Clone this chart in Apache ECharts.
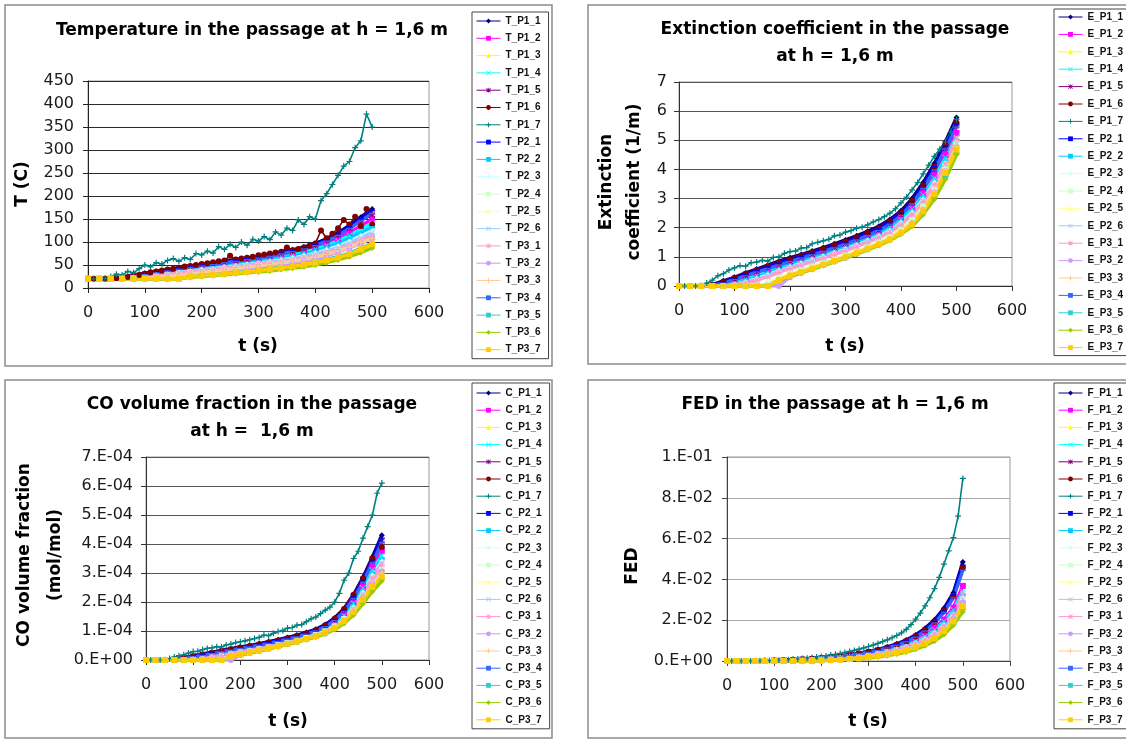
<!DOCTYPE html>
<html><head><meta charset="utf-8">
<script src="https://cdn.jsdelivr.net/npm/echarts@6/dist/echarts.min.js"></script>
<style>html,body{margin:0;padding:0;background:#fff}#c{width:1126px;height:740px}</style>
</head><body><div id="c"></div>
<script>
// ---------- shared categories / ticks ----------
const probeIds = ['P1_1','P1_2','P1_3','P1_4','P1_5','P1_6','P1_7','P2_1','P2_2','P2_3','P2_4','P2_5','P2_6','P3_1','P3_2','P3_3','P3_4','P3_5','P3_6','P3_7'];
const tCoarse = [0,20,40,60,80,100,120,140,160,180,200,220,240,260,280,300,320,340,360,380,400,420,440,460,480,500];
const tFine = [0,10,20,30,40,50,60,70,80,90,100,110,120,130,140,150,160,170,180,190,200,210,220,230,240,250,260,270,280,290,300,310,320,330,340,350,360,370,380,390,400,410,420,430,440,450,460,470,480,490,500];
const timeTicks = ['0','100','200','300','400','500','600'];
const tempTicks = ['0','50','100','150','200','250','300','350','400','450'];
const extTicks = ['0','1','2','3','4','5','6','7'];
const coTicks = ['0.E+00','1.E-04','2.E-04','3.E-04','4.E-04','5.E-04','6.E-04','7.E-04'];
const fedTicks = ['0.E+00','2.E-02','4.E-02','6.E-02','8.E-02','1.E-01'];

// ---------- Temperature (C) ----------
const T_P1_1 = [20,20,21,24,28,32,36,40,44,48,51,55,58,62,65,69,73,78,83,89,97,107,120,136,154,172];
const T_P1_2 = [20,20,20,22,25,28,32,36,40,43,46,49,52,55,58,62,66,70,75,80,87,96,107,120,135,150];
const T_P1_3 = [20,20,20,20,20,20,20,20,20,25,27,29,31,33,35,37,40,43,46,50,54,59,65,73,83,95];
const T_P1_4 = [20,20,20,22,25,28,31,35,38,41,44,47,50,53,56,60,64,68,72,78,84,92,102,114,128,140];
const T_P1_5 = [20,20,20,22,26,30,34,38,42,46,49,52,56,59,63,66,70,75,80,86,93,103,115,130,148,160];
const T_P1_6 = [20,20,20,20,20,21,22,24,26,28,31,34,36,38,40,42,44,47,48,50,52,54,56,58,60,70,62,64,66,68,71,73,75,77,79,88,82,85,88,92,97,125,108,118,130,148,138,155,135,172,138];
const T_P1_7 = [20,20,20,21,25,30,28,36,33,42,50,46,55,52,60,64,58,66,62,75,72,80,76,90,84,95,88,100,93,106,102,112,105,122,115,130,125,148,138,155,150,190,205,225,245,265,275,305,320,378,350];
const T_P2_1 = [20,20,20,23,27,31,35,39,43,47,50,53,57,60,64,67,71,76,81,87,95,105,118,133,151,168];
const T_P2_2 = [20,20,20,21,24,27,30,33,36,39,42,45,48,51,54,57,61,65,69,74,80,88,97,108,121,132];
const T_P2_3 = [20,20,20,21,23,25,28,31,34,37,40,42,45,48,51,54,57,61,65,70,76,83,91,101,113,124];
const T_P2_4 = [20,20,20,20,21,23,25,28,31,34,36,39,41,44,47,50,53,56,60,64,69,75,82,91,101,111];
const T_P2_5 = [20,20,20,20,20,20,20,21,22,25,28,30,32,34,36,39,42,45,48,52,56,61,67,75,85,97];
const T_P2_6 = [20,20,20,21,22,24,27,30,33,36,38,41,44,47,50,53,56,59,63,68,74,80,88,98,109,120];
const T_P3_1 = [20,20,20,20,22,24,26,29,32,35,37,40,42,45,48,51,54,57,61,65,70,76,84,93,103,114];
const T_P3_2 = [20,20,20,20,20,20,20,20,21,28,31,33,36,39,42,45,48,51,55,59,64,70,78,87,97,108];
const T_P3_3 = [20,20,20,20,20,21,23,25,28,31,34,36,39,42,45,48,51,54,58,62,67,73,80,89,99,108];
const T_P3_4 = [20,20,20,22,25,29,33,37,41,45,48,51,55,58,62,65,69,74,79,85,92,102,114,129,146,162];
const T_P3_5 = [20,20,20,20,20,20,20,20,21,24,27,29,31,33,36,39,42,45,48,52,56,62,68,76,86,98];
const T_P3_6 = [20,20,20,20,20,20,20,20,20,23,25,27,29,31,33,35,37,40,43,46,50,55,61,68,77,87];
const T_P3_7 = [20,20,20,20,20,20,20,20,20,25,27,29,31,33,35,38,41,44,47,51,55,60,66,74,84,96];

// ---------- Extinction coefficient (1/m) ----------
const E_P1_1 = [0,0,0,0.05,0.18,0.3,0.45,0.58,0.72,0.85,0.97,1.08,1.2,1.32,1.45,1.58,1.72,1.88,2.05,2.28,2.58,3.0,3.55,4.2,4.95,5.78];
const E_P1_2 = [0,0,0,0,0.04,0.12,0.25,0.38,0.52,0.66,0.78,0.9,1.02,1.14,1.26,1.39,1.53,1.68,1.85,2.06,2.35,2.72,3.2,3.8,4.5,5.25];
const E_P1_3 = [0,0,0,0,0,0,0,0,0,0.22,0.38,0.5,0.62,0.75,0.88,1.0,1.14,1.29,1.44,1.62,1.85,2.15,2.6,3.2,3.92,4.72];
const E_P1_4 = [0,0,0,0,0.03,0.1,0.22,0.35,0.48,0.62,0.74,0.86,0.98,1.1,1.22,1.35,1.49,1.64,1.8,2.0,2.28,2.65,3.12,3.7,4.4,5.1];
const E_P1_5 = [0,0,0,0.02,0.12,0.24,0.37,0.5,0.62,0.74,0.86,0.98,1.09,1.21,1.33,1.46,1.6,1.75,1.92,2.15,2.45,2.85,3.38,4.0,4.72,5.5];
const E_P1_6 = [0,0,0,0.04,0.15,0.28,0.42,0.55,0.68,0.8,0.92,1.04,1.16,1.28,1.4,1.53,1.67,1.82,1.99,2.22,2.52,2.92,3.46,4.1,4.85,5.6];
const E_P1_7 = [0,0,0,0,0.02,0.1,0.2,0.35,0.42,0.55,0.62,0.7,0.68,0.8,0.82,0.88,0.85,0.98,1.0,1.12,1.18,1.2,1.3,1.32,1.45,1.5,1.55,1.6,1.72,1.75,1.85,1.9,1.98,2.02,2.1,2.2,2.28,2.38,2.5,2.65,2.85,3.05,3.3,3.55,3.85,4.15,4.45,4.7,4.95,5.3,5.72];
const E_P2_1 = [0,0,0,0.03,0.14,0.27,0.4,0.53,0.66,0.79,0.9,1.02,1.13,1.25,1.38,1.51,1.65,1.8,1.97,2.2,2.5,2.9,3.45,4.1,4.8,5.55];
const E_P2_2 = [0,0,0,0,0.02,0.08,0.18,0.3,0.43,0.57,0.7,0.82,0.94,1.06,1.18,1.31,1.45,1.6,1.76,1.96,2.23,2.58,3.05,3.62,4.3,5.0];
const E_P2_3 = [0,0,0,0,0,0.05,0.14,0.25,0.38,0.52,0.65,0.77,0.89,1.01,1.13,1.26,1.4,1.55,1.71,1.9,2.17,2.52,2.98,3.55,4.22,4.95];
const E_P2_4 = [0,0,0,0,0,0,0,0.02,0.08,0.28,0.43,0.55,0.67,0.8,0.93,1.06,1.2,1.35,1.51,1.7,1.95,2.28,2.75,3.36,4.1,4.9];
const E_P2_5 = [0,0,0,0,0,0,0,0,0.05,0.25,0.4,0.52,0.64,0.77,0.9,1.03,1.17,1.32,1.48,1.66,1.9,2.22,2.68,3.28,4.0,4.8];
const E_P2_6 = [0,0,0,0,0,0.04,0.12,0.22,0.35,0.5,0.63,0.75,0.87,0.99,1.11,1.24,1.38,1.53,1.69,1.88,2.14,2.48,2.93,3.5,4.18,4.9];
const E_P3_1 = [0,0,0,0,0,0.03,0.1,0.2,0.32,0.47,0.6,0.72,0.84,0.96,1.08,1.21,1.35,1.5,1.66,1.85,2.1,2.45,2.9,3.48,4.2,5.05];
const E_P3_2 = [0,0,0,0,0,0,0,0,0,0,0.3,0.45,0.58,0.71,0.84,0.97,1.11,1.26,1.42,1.6,1.84,2.16,2.62,3.22,3.95,4.75];
const E_P3_3 = [0,0,0,0,0,0,0,0,0.03,0.22,0.37,0.5,0.62,0.75,0.88,1.01,1.15,1.3,1.46,1.64,1.88,2.2,2.65,3.25,3.98,4.78];
const E_P3_4 = [0,0,0,0.02,0.1,0.22,0.35,0.48,0.6,0.72,0.84,0.96,1.07,1.19,1.31,1.44,1.58,1.73,1.9,2.12,2.42,2.82,3.35,3.98,4.7,5.45];
const E_P3_5 = [0,0,0,0,0,0,0,0,0,0.2,0.35,0.47,0.59,0.72,0.85,0.98,1.11,1.26,1.41,1.58,1.8,2.08,2.5,3.05,3.75,4.55];
const E_P3_6 = [0,0,0,0,0,0,0,0,0,0.18,0.33,0.45,0.57,0.7,0.83,0.96,1.09,1.24,1.39,1.56,1.78,2.05,2.45,2.98,3.66,4.5];
const E_P3_7 = [0,0,0,0,0,0,0,0,0,0.2,0.36,0.48,0.6,0.73,0.86,0.99,1.13,1.28,1.43,1.6,1.83,2.12,2.56,3.15,3.88,4.68];

// ---------- CO volume fraction (mol/mol) ----------
const C_P1_1 = [0,0,0,0.03e-4,0.08e-4,0.15e-4,0.21e-4,0.27e-4,0.33e-4,0.39e-4,0.45e-4,0.5e-4,0.56e-4,0.63e-4,0.7e-4,0.78e-4,0.86e-4,0.95e-4,1.06e-4,1.22e-4,1.45e-4,1.78e-4,2.25e-4,2.85e-4,3.55e-4,4.3e-4];
const C_P1_2 = [0,0,0,0,0.03e-4,0.08e-4,0.13e-4,0.19e-4,0.25e-4,0.31e-4,0.36e-4,0.41e-4,0.47e-4,0.53e-4,0.6e-4,0.67e-4,0.75e-4,0.84e-4,0.94e-4,1.08e-4,1.28e-4,1.58e-4,2.0e-4,2.55e-4,3.2e-4,3.75e-4];
const C_P1_3 = [0,0,0,0,0,0,0,0,0,0.12e-4,0.2e-4,0.27e-4,0.34e-4,0.41e-4,0.49e-4,0.57e-4,0.65e-4,0.74e-4,0.84e-4,0.96e-4,1.12e-4,1.35e-4,1.68e-4,2.1e-4,2.55e-4,2.9e-4];
const C_P1_4 = [0,0,0,0,0.02e-4,0.06e-4,0.11e-4,0.17e-4,0.23e-4,0.29e-4,0.34e-4,0.39e-4,0.45e-4,0.51e-4,0.58e-4,0.65e-4,0.73e-4,0.82e-4,0.92e-4,1.05e-4,1.25e-4,1.54e-4,1.95e-4,2.48e-4,3.1e-4,3.6e-4];
const C_P1_5 = [0,0,0,0.02e-4,0.06e-4,0.12e-4,0.18e-4,0.24e-4,0.3e-4,0.36e-4,0.41e-4,0.46e-4,0.52e-4,0.58e-4,0.65e-4,0.73e-4,0.81e-4,0.9e-4,1.01e-4,1.16e-4,1.38e-4,1.7e-4,2.16e-4,2.74e-4,3.42e-4,4.1e-4];
const C_P1_6 = [0,0,0,0.02e-4,0.07e-4,0.13e-4,0.19e-4,0.25e-4,0.31e-4,0.37e-4,0.43e-4,0.48e-4,0.54e-4,0.6e-4,0.67e-4,0.75e-4,0.83e-4,0.92e-4,1.03e-4,1.19e-4,1.42e-4,1.76e-4,2.25e-4,2.8e-4,3.5e-4,3.9e-4];
const C_P1_7 = [0,0,0,0,0.01e-4,0.05e-4,0.1e-4,0.15e-4,0.18e-4,0.24e-4,0.29e-4,0.3e-4,0.36e-4,0.4e-4,0.42e-4,0.46e-4,0.45e-4,0.52e-4,0.55e-4,0.6e-4,0.63e-4,0.66e-4,0.7e-4,0.74e-4,0.78e-4,0.86e-4,0.84e-4,0.92e-4,0.98e-4,1.02e-4,1.1e-4,1.12e-4,1.2e-4,1.22e-4,1.32e-4,1.42e-4,1.48e-4,1.6e-4,1.72e-4,1.82e-4,2.0e-4,2.3e-4,2.75e-4,3.0e-4,3.5e-4,3.75e-4,4.2e-4,4.6e-4,5.0e-4,5.75e-4,6.1e-4];
const C_P2_1 = [0,0,0,0.02e-4,0.06e-4,0.12e-4,0.18e-4,0.24e-4,0.3e-4,0.36e-4,0.42e-4,0.47e-4,0.53e-4,0.6e-4,0.67e-4,0.75e-4,0.83e-4,0.92e-4,1.03e-4,1.18e-4,1.4e-4,1.72e-4,2.18e-4,2.76e-4,3.45e-4,4.2e-4];
const C_P2_2 = [0,0,0,0,0.02e-4,0.05e-4,0.1e-4,0.15e-4,0.21e-4,0.27e-4,0.32e-4,0.37e-4,0.43e-4,0.49e-4,0.55e-4,0.62e-4,0.7e-4,0.78e-4,0.88e-4,1.01e-4,1.2e-4,1.48e-4,1.88e-4,2.4e-4,3.0e-4,3.5e-4];
const C_P2_3 = [0,0,0,0,0,0.04e-4,0.08e-4,0.13e-4,0.19e-4,0.25e-4,0.3e-4,0.35e-4,0.41e-4,0.47e-4,0.53e-4,0.6e-4,0.68e-4,0.76e-4,0.86e-4,0.98e-4,1.16e-4,1.43e-4,1.82e-4,2.33e-4,2.92e-4,3.4e-4];
const C_P2_4 = [0,0,0,0,0,0,0,0.01e-4,0.04e-4,0.14e-4,0.22e-4,0.29e-4,0.36e-4,0.43e-4,0.51e-4,0.59e-4,0.67e-4,0.76e-4,0.86e-4,0.99e-4,1.16e-4,1.41e-4,1.76e-4,2.2e-4,2.7e-4,3.1e-4];
const C_P2_5 = [0,0,0,0,0,0,0,0,0.02e-4,0.13e-4,0.21e-4,0.28e-4,0.35e-4,0.42e-4,0.5e-4,0.58e-4,0.66e-4,0.75e-4,0.85e-4,0.97e-4,1.14e-4,1.38e-4,1.72e-4,2.15e-4,2.62e-4,3.0e-4];
const C_P2_6 = [0,0,0,0,0,0.03e-4,0.07e-4,0.12e-4,0.18e-4,0.24e-4,0.29e-4,0.34e-4,0.4e-4,0.46e-4,0.52e-4,0.59e-4,0.66e-4,0.74e-4,0.84e-4,0.96e-4,1.14e-4,1.4e-4,1.78e-4,2.28e-4,2.86e-4,3.35e-4];
const C_P3_1 = [0,0,0,0,0,0.03e-4,0.07e-4,0.11e-4,0.16e-4,0.22e-4,0.27e-4,0.32e-4,0.38e-4,0.44e-4,0.5e-4,0.57e-4,0.64e-4,0.72e-4,0.82e-4,0.94e-4,1.11e-4,1.37e-4,1.74e-4,2.22e-4,2.8e-4,3.3e-4];
const C_P3_2 = [0,0,0,0,0,0,0,0,0,0,0.17e-4,0.25e-4,0.32e-4,0.39e-4,0.47e-4,0.55e-4,0.63e-4,0.72e-4,0.82e-4,0.94e-4,1.1e-4,1.34e-4,1.68e-4,2.12e-4,2.62e-4,3.05e-4];
const C_P3_3 = [0,0,0,0,0,0,0,0,0.01e-4,0.12e-4,0.2e-4,0.27e-4,0.34e-4,0.41e-4,0.49e-4,0.57e-4,0.65e-4,0.74e-4,0.84e-4,0.96e-4,1.13e-4,1.37e-4,1.7e-4,2.13e-4,2.6e-4,3.0e-4];
const C_P3_4 = [0,0,0,0.01e-4,0.05e-4,0.1e-4,0.16e-4,0.22e-4,0.28e-4,0.34e-4,0.4e-4,0.45e-4,0.51e-4,0.57e-4,0.64e-4,0.72e-4,0.8e-4,0.89e-4,1.0e-4,1.15e-4,1.36e-4,1.67e-4,2.12e-4,2.68e-4,3.35e-4,4.05e-4];
const C_P3_5 = [0,0,0,0,0,0,0,0,0,0.1e-4,0.18e-4,0.25e-4,0.32e-4,0.39e-4,0.47e-4,0.55e-4,0.63e-4,0.72e-4,0.81e-4,0.93e-4,1.08e-4,1.3e-4,1.6e-4,2.0e-4,2.45e-4,2.8e-4];
const C_P3_6 = [0,0,0,0,0,0,0,0,0,0.09e-4,0.17e-4,0.24e-4,0.31e-4,0.38e-4,0.46e-4,0.54e-4,0.62e-4,0.7e-4,0.79e-4,0.9e-4,1.05e-4,1.26e-4,1.55e-4,1.94e-4,2.36e-4,2.72e-4];
const C_P3_7 = [0,0,0,0,0,0,0,0,0,0.11e-4,0.19e-4,0.26e-4,0.33e-4,0.4e-4,0.48e-4,0.56e-4,0.64e-4,0.73e-4,0.83e-4,0.95e-4,1.11e-4,1.34e-4,1.66e-4,2.08e-4,2.52e-4,2.88e-4];

// ---------- FED ----------
const F_P1_1 = [0,0,0,0,0.0001,0.0002,0.0004,0.0006,0.0009,0.0012,0.0016,0.002,0.0025,0.0031,0.0038,0.0047,0.0057,0.0069,0.0084,0.0103,0.0128,0.016,0.0202,0.0258,0.0335,0.0485];
const F_P1_2 = [0,0,0,0,0,0.0001,0.0002,0.0004,0.0006,0.0009,0.0012,0.0015,0.0019,0.0024,0.003,0.0037,0.0045,0.0055,0.0067,0.0082,0.0102,0.0127,0.016,0.0203,0.0262,0.0368];
const F_P1_3 = [0,0,0,0,0,0,0,0,0,0.0001,0.0003,0.0005,0.0007,0.001,0.0014,0.0019,0.0025,0.0032,0.0041,0.0052,0.0067,0.0087,0.0113,0.0148,0.0195,0.027];
const F_P1_4 = [0,0,0,0,0,0.0001,0.0002,0.0003,0.0005,0.0008,0.0011,0.0014,0.0018,0.0023,0.0028,0.0035,0.0043,0.0052,0.0063,0.0077,0.0096,0.012,0.0152,0.0194,0.025,0.034];
const F_P1_5 = [0,0,0,0,0.0001,0.0002,0.0003,0.0005,0.0008,0.0011,0.0014,0.0018,0.0023,0.0029,0.0036,0.0044,0.0053,0.0065,0.0079,0.0096,0.012,0.015,0.019,0.0243,0.0316,0.0455];
const F_P1_6 = [0,0,0,0,0.0001,0.0002,0.0004,0.0006,0.0008,0.0011,0.0015,0.0019,0.0024,0.003,0.0037,0.0045,0.0054,0.0066,0.008,0.0098,0.0122,0.0153,0.0193,0.0247,0.032,0.046];
const F_P1_7 = [0,0,0,0,0,0,0.0001,0.0001,0.0002,0.0002,0.0003,0.0004,0.0005,0.0006,0.0008,0.001,0.0012,0.0014,0.0016,0.0019,0.0022,0.0025,0.0029,0.0033,0.0037,0.0042,0.0047,0.0052,0.0058,0.0064,0.0071,0.0078,0.0086,0.0095,0.0104,0.0114,0.0125,0.0138,0.0155,0.0178,0.0205,0.0235,0.027,0.031,0.0355,0.041,0.0475,0.054,0.0605,0.071,0.0895];
const F_P2_1 = [0,0,0,0,0.0001,0.0002,0.0003,0.0005,0.0008,0.0011,0.0015,0.0019,0.0024,0.003,0.0037,0.0045,0.0055,0.0067,0.0081,0.0099,0.0123,0.0154,0.0195,0.025,0.0325,0.047];
const F_P2_2 = [0,0,0,0,0,0.0001,0.0002,0.0003,0.0005,0.0007,0.001,0.0013,0.0017,0.0022,0.0027,0.0033,0.0041,0.005,0.006,0.0074,0.0092,0.0115,0.0146,0.0186,0.024,0.0325];
const F_P2_3 = [0,0,0,0,0,0,0.0001,0.0002,0.0004,0.0006,0.0009,0.0012,0.0016,0.002,0.0025,0.0031,0.0038,0.0047,0.0057,0.007,0.0087,0.0109,0.0138,0.0177,0.0228,0.031];
const F_P2_4 = [0,0,0,0,0,0,0,0,0.0001,0.0002,0.0004,0.0006,0.0009,0.0012,0.0016,0.0021,0.0027,0.0035,0.0045,0.0057,0.0073,0.0095,0.0123,0.016,0.021,0.029];
const F_P2_5 = [0,0,0,0,0,0,0,0,0,0.0001,0.0003,0.0005,0.0008,0.0011,0.0015,0.002,0.0026,0.0033,0.0042,0.0054,0.0069,0.009,0.0117,0.0153,0.0202,0.028];
const F_P2_6 = [0,0,0,0,0,0,0.0001,0.0002,0.0004,0.0006,0.0008,0.0011,0.0015,0.0019,0.0024,0.003,0.0037,0.0045,0.0055,0.0068,0.0085,0.0106,0.0134,0.0172,0.0222,0.0305];
const F_P3_1 = [0,0,0,0,0,0,0.0001,0.0002,0.0003,0.0005,0.0008,0.0011,0.0014,0.0018,0.0023,0.0029,0.0036,0.0044,0.0054,0.0067,0.0084,0.0106,0.0135,0.0174,0.0228,0.033];
const F_P3_2 = [0,0,0,0,0,0,0,0,0,0,0.0002,0.0004,0.0007,0.001,0.0014,0.0019,0.0025,0.0033,0.0042,0.0054,0.007,0.0091,0.0118,0.0155,0.0205,0.0285];
const F_P3_3 = [0,0,0,0,0,0,0,0,0,0.0001,0.0003,0.0005,0.0008,0.0011,0.0015,0.002,0.0026,0.0033,0.0042,0.0054,0.0069,0.009,0.0116,0.0152,0.02,0.0278];
const F_P3_4 = [0,0,0,0,0,0.0001,0.0003,0.0005,0.0007,0.001,0.0014,0.0018,0.0023,0.0028,0.0035,0.0043,0.0052,0.0064,0.0077,0.0094,0.0117,0.0147,0.0186,0.0238,0.031,0.0445];
const F_P3_5 = [0,0,0,0,0,0,0,0,0,0.0001,0.0002,0.0004,0.0006,0.0009,0.0013,0.0017,0.0022,0.0029,0.0037,0.0048,0.0062,0.0081,0.0105,0.0138,0.0183,0.0255];
const F_P3_6 = [0,0,0,0,0,0,0,0,0,0,0.0002,0.0004,0.0006,0.0008,0.0011,0.0015,0.002,0.0026,0.0034,0.0044,0.0057,0.0075,0.0098,0.013,0.0175,0.0242];
const F_P3_7 = [0,0,0,0,0,0,0,0,0,0.0001,0.0003,0.0005,0.0007,0.001,0.0014,0.0019,0.0025,0.0032,0.0041,0.0052,0.0067,0.0086,0.0112,0.0147,0.0194,0.0268];

const tempValues = [T_P1_1,T_P1_2,T_P1_3,T_P1_4,T_P1_5,T_P1_6,T_P1_7,T_P2_1,T_P2_2,T_P2_3,T_P2_4,T_P2_5,T_P2_6,T_P3_1,T_P3_2,T_P3_3,T_P3_4,T_P3_5,T_P3_6,T_P3_7];
const extValues = [E_P1_1,E_P1_2,E_P1_3,E_P1_4,E_P1_5,E_P1_6,E_P1_7,E_P2_1,E_P2_2,E_P2_3,E_P2_4,E_P2_5,E_P2_6,E_P3_1,E_P3_2,E_P3_3,E_P3_4,E_P3_5,E_P3_6,E_P3_7];
const coValues = [C_P1_1,C_P1_2,C_P1_3,C_P1_4,C_P1_5,C_P1_6,C_P1_7,C_P2_1,C_P2_2,C_P2_3,C_P2_4,C_P2_5,C_P2_6,C_P3_1,C_P3_2,C_P3_3,C_P3_4,C_P3_5,C_P3_6,C_P3_7];
const fedValues = [F_P1_1,F_P1_2,F_P1_3,F_P1_4,F_P1_5,F_P1_6,F_P1_7,F_P2_1,F_P2_2,F_P2_3,F_P2_4,F_P2_5,F_P2_6,F_P3_1,F_P3_2,F_P3_3,F_P3_4,F_P3_5,F_P3_6,F_P3_7];

// ---------- styles ----------
const seriesColors = ['#000080','#FF00FF','#FFFF00','#00FFFF','#800080','#800000','#008080','#0000FF','#00CCFF','#CCFFFF','#CCFFCC','#FFFF99','#99CCFF','#FF99CC','#CC99FF','#FFCC99','#3366FF','#33CCCC','#99CC00','#FFCC00'];
const X_MARK = 'path://M1,0L5,4L9,0L10,1L6,5L10,9L9,10L5,6L1,10L0,9L4,5L0,1Z';
const PLUS_MARK = 'path://M4,0H6V4H10V6H6V10H4V6H0V4H4Z';
const STAR_MARK = 'path://M4.3,0H5.7V4.3H10V5.7H5.7V10H4.3V5.7H0V4.3H4.3ZM1,0L5,4L9,0L10,1L6,5L10,9L9,10L5,6L1,10L0,9L4,5L0,1Z';
const DASH_MARK = 'path://M0,4H10V6H0Z';
const SDASH_MARK = 'path://M0,4H6V6.4H0Z';
const markerCycle = ['diamond','rect','triangle',X_MARK,STAR_MARK,'circle',PLUS_MARK,DASH_MARK,SDASH_MARK];

const FONT = '"DejaVu Sans", sans-serif';

const panels = [
  {prefix:'T', values:tempValues, grid:{left:88,top:81,width:341,height:207}, yMax:450, yInt:50, yTicks:tempTicks, gridColor:'#2a2a2a', axisColor:'#222', yMargin:14,
   legend:{left:472, top:12, padding:[4,8,4,4], itemGap:7.3}},
  {prefix:'E', values:extValues, grid:{left:679,top:82,width:333,height:204}, yMax:7, yInt:1, yTicks:extTicks, gridColor:'#555', axisColor:'#333', yMargin:12,
   legend:{left:1054, top:9, padding:[3,60,3,4], itemGap:7.4}},
  {prefix:'C', values:coValues, grid:{left:146,top:457,width:283,height:203}, yMax:7e-4, yInt:1e-4, yTicks:coTicks, gridColor:'#555', axisColor:'#333', yMargin:13,
   legend:{left:472, top:383, padding:[5,8,4,4], itemGap:7.2}},
  {prefix:'F', values:fedValues, grid:{left:727,top:457,width:283,height:204}, yMax:0.1, yInt:0.02, yTicks:fedTicks, gridColor:'#aaa', axisColor:'#444', yMargin:14,
   legend:{left:1054, top:383, padding:[5,60,4,4], itemGap:7.2}}
];

const series = [];
const legends = [];
panels.forEach((p, pi) => {
  const names = probeIds.map(id => p.prefix + '_' + id);
  names.forEach((name, i) => {
    const vals = p.values[i];
    const fine = vals.length === tFine.length;
    const times = fine ? tFine : tCoarse;
    series.push({
      type:'line', name, xAxisIndex:pi, yAxisIndex:pi,
      data: times.map((t, k) => [t, vals[k]]),
      symbol: markerCycle[i % 9], symbolSize: 6, symbolKeepAspect: true,
      showSymbol: true, showAllSymbol: true,
      lineStyle:{color: seriesColors[i], width: fine ? 1.6 : 3.4},
      itemStyle:{color: seriesColors[i]},
      emphasis:{disabled:true}, silent:true, animation:false
    });
  });
  legends.push({
    orient:'vertical', left:p.legend.left, top:p.legend.top, padding:p.legend.padding,
    itemGap:p.legend.itemGap, itemWidth:24, itemHeight:6, data:names,
    borderColor:'#444', borderWidth:1, selectedMode:false,
    lineStyle:{width:1},
    textStyle:{fontFamily:'"Liberation Sans", Arial, sans-serif', fontWeight:'bold', fontSize:10, lineHeight:10, color:'#111'}
  });
});

const txt = (x, y, text, size, extra) => Object.assign({type:'text', x, y, silent:true,
  style:{text, font:'bold ' + size + 'px ' + FONT, fill:'#000', align:'center', verticalAlign:'middle'}}, extra || {});

const graphic = [
  {type:'rect', shape:{x:5,y:5,width:547,height:361}, style:{fill:'none', stroke:'#8c8c8c', lineWidth:1.5}, silent:true},
  {type:'rect', shape:{x:588,y:5,width:560,height:359}, style:{fill:'none', stroke:'#8c8c8c', lineWidth:1.5}, silent:true},
  {type:'rect', shape:{x:5,y:380,width:547,height:358}, style:{fill:'none', stroke:'#8c8c8c', lineWidth:1.5}, silent:true},
  {type:'rect', shape:{x:588,y:380,width:560,height:358}, style:{fill:'none', stroke:'#8c8c8c', lineWidth:1.5}, silent:true},
  txt(252, 31, 'Temperature in the passage at h = 1,6 m', 17),
  txt(835, 43.5, 'Extinction coefficient in the passage\nat h = 1,6 m', 17),
  txt(252, 418.5, 'CO volume fraction in the passage\nat h =  1,6 m', 17),
  txt(835, 405, 'FED in the passage at h = 1,6 m', 17),
  txt(258, 347, 't (s)', 17), txt(845, 347, 't (s)', 17),
  txt(288, 722, 't (s)', 17), txt(868, 722, 't (s)', 17),
  txt(23, 184, 'T (C)', 17, {rotation: Math.PI/2}),
  txt(621, 182, 'Extinction\ncoefficient (1/m)', 17, {rotation: Math.PI/2}),
  txt(40, 555, 'CO volume fraction\n(mol/mol)', 17, {rotation: Math.PI/2}),
  txt(633, 566, 'FED', 17, {rotation: Math.PI/2})
];
graphic[5].style.lineHeight = 27;
graphic[6].style.lineHeight = 27;
graphic[13].style.lineHeight = 28;
graphic[14].style.lineHeight = 31;

const option = {
  animation:false,
  backgroundColor:'#ffffff',
  grid: panels.map(p => Object.assign({show:true, borderColor:'#9a9a9a', borderWidth:1, backgroundColor:'transparent'}, p.grid)),
  xAxis: panels.map((p, i) => ({
    type:'value', gridIndex:i, min:0, max:600, interval:100,
    axisLine:{show:true, onZero:false, lineStyle:{color:p.axisColor, width:1}},
    axisTick:{show:true, length:5, lineStyle:{color:p.axisColor}},
    axisLabel:{margin:17, fontFamily:FONT, fontSize:16, color:'#1a1a1a', formatter: v => timeTicks[Math.round(v/100)]},
    splitLine:{show:false}
  })),
  yAxis: panels.map((p, i) => ({
    type:'value', gridIndex:i, min:0, max:p.yMax, interval:p.yInt,
    axisLine:{show:true, onZero:false, lineStyle:{color:p.axisColor, width:1}},
    axisTick:{show:true, length:5, lineStyle:{color:p.axisColor}},
    axisLabel:{margin:p.yMargin, fontFamily:FONT, fontSize:16, color:'#1a1a1a', formatter: v => p.yTicks[Math.round(v/p.yInt)]},
    splitLine:{show:true, lineStyle:{color:p.gridColor, width:1}}
  })),
  legend: legends,
  series,
  graphic
};

const chart = echarts.init(document.getElementById('c'), null, {renderer:'canvas'});
chart.setOption(option);
</script>
</body></html>
